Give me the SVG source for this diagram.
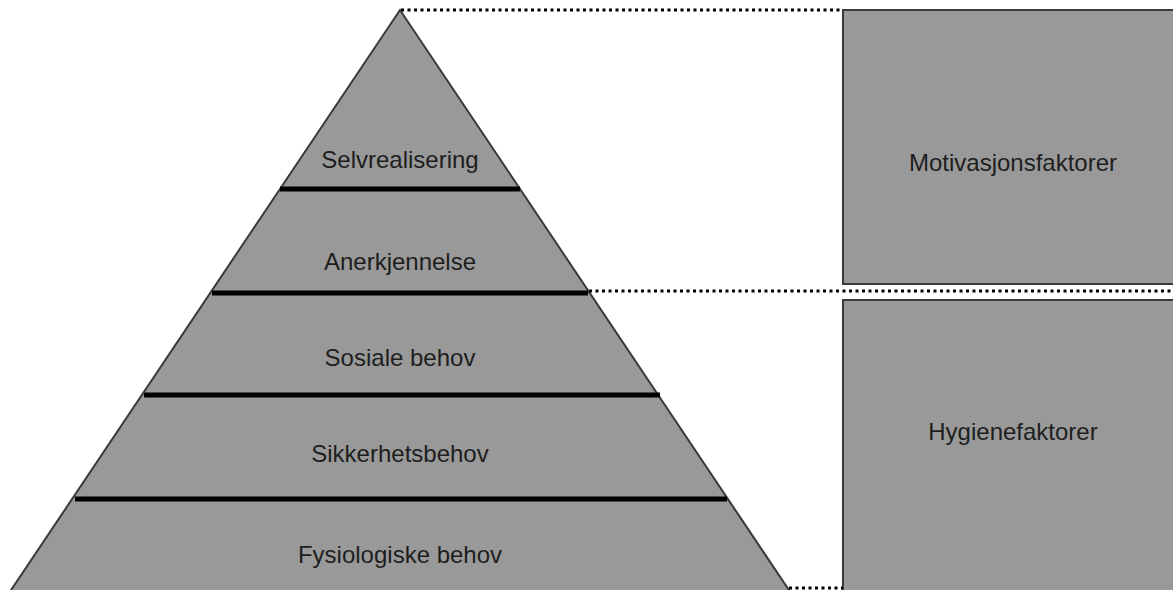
<svg xmlns="http://www.w3.org/2000/svg" width="1173" height="590" viewBox="0 0 1173 590">
  <style>
    .shape { fill: #999999; stroke: #3a3a3a; stroke-width: 2; }
    .tier { stroke: #000000; stroke-width: 5; stroke-linecap: butt; }
    .dots { fill: none; stroke: #000000; stroke-width: 3; stroke-dasharray: 3 3.5; }
    .label { font-family: "Liberation Sans", Arial, sans-serif; font-size: 24px; fill: #1e1e1e; text-anchor: middle; }
  </style>
  <rect width="1173" height="590" fill="#ffffff"/>

  <!-- Maslow pyramid with tier dividers -->
  <g id="pyramid">
    <polygon class="shape" points="400,10 -3,611 803,611"/>
    <line class="tier" x1="280" y1="189" x2="520" y2="189"/>
    <line class="tier" x1="212" y1="293" x2="588" y2="293"/>
    <line class="tier" x1="144" y1="395" x2="660" y2="395"/>
    <line class="tier" x1="75" y1="499" x2="727" y2="499"/>
  </g>
  <g id="tier-selvrealisering"><text class="label" x="400" y="168">Selvrealisering</text></g>
  <g id="tier-anerkjennelse"><text class="label" x="400" y="270">Anerkjennelse</text></g>
  <g id="tier-sosiale"><text class="label" x="400" y="366">Sosiale behov</text></g>
  <g id="tier-sikkerhet"><text class="label" x="400" y="462">Sikkerhetsbehov</text></g>
  <g id="tier-fysiologiske"><text class="label" x="400" y="563">Fysiologiske behov</text></g>

  <!-- Herzberg factor boxes -->
  <g id="motivasjonsfaktorer">
    <rect class="shape" x="843" y="10" width="345" height="274"/>
    <text class="label" x="1013" y="171">Motivasjonsfaktorer</text>
  </g>
  <g id="hygienefaktorer">
    <rect class="shape" x="843" y="300" width="345" height="310"/>
    <text class="label" x="1013" y="440">Hygienefaktorer</text>
  </g>

  <!-- dotted guide lines linking pyramid levels to boxes -->
  <g id="connectors">
    <line class="dots" x1="401" y1="10" x2="843" y2="10"/>
    <line class="dots" x1="589" y1="291" x2="1173" y2="291"/>
    <line class="dots" x1="789" y1="588" x2="843" y2="588"/>
  </g>
</svg>
